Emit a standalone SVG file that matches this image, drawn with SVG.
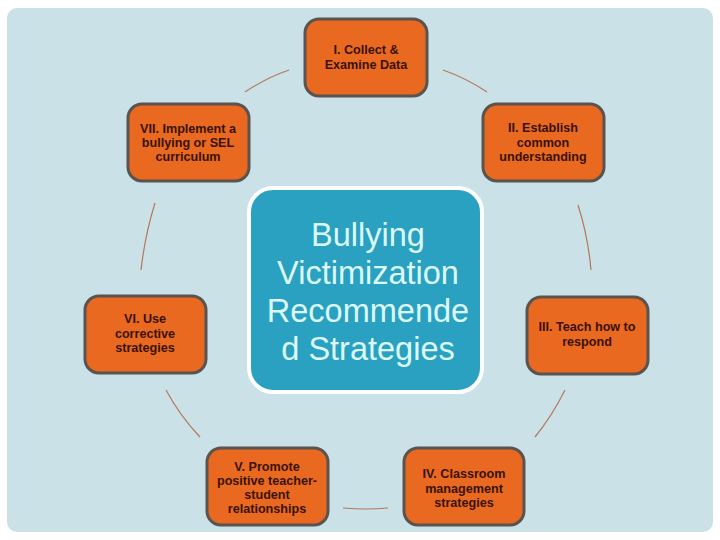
<svg xmlns="http://www.w3.org/2000/svg" width="720" height="540" viewBox="0 0 720 540">
<defs>
<style>
.node{fill:#e8691f;stroke:#5a5350;stroke-width:3}
.lbl{font-family:"Liberation Sans",Arial,sans-serif;font-weight:bold;font-size:12.6px;fill:#3a1208;text-anchor:middle}
.con{fill:none;stroke:#b5795a;stroke-width:1.2}
.ctr{font-family:"Liberation Sans",Arial,sans-serif;font-size:32.5px;fill:#dcf9f9;text-anchor:middle}
</style>
</defs>
<rect x="0" y="0" width="720" height="540" fill="#ffffff"/>
<rect x="7" y="8" width="706" height="524" rx="10" fill="#c9e1e7"/>
<g id="connectors">
<path class="con" d="M245,92 Q266,78 289,70"/>
<path class="con" d="M443,70 Q466,78 487,92"/>
<path class="con" d="M155,203 Q145,235 141,270"/>
<path class="con" d="M578,205 Q588,236 591,270"/>
<path class="con" d="M166,390 Q180,416 200,437"/>
<path class="con" d="M565,390 Q552,416 535,437"/>
<path class="con" d="M343,508 Q366,510 388,508"/>
</g>
<g id="center">
<rect x="249" y="188" width="233" height="204" rx="24" fill="#2aa1c1" stroke="#ffffff" stroke-width="4"/>
<text class="ctr" x="368" y="246">Bullying</text>
<text class="ctr" x="368" y="284">Victimization</text>
<text class="ctr" x="368" y="322">Recommende</text>
<text class="ctr" x="368" y="360">d Strategies</text>
</g>
<g id="n1">
<rect class="node" x="305" y="19" width="122" height="77" rx="14"/>
<text class="lbl" x="366" y="54">I. Collect &amp;</text>
<text class="lbl" x="366" y="69">Examine Data</text>
</g>
<g id="n2">
<rect class="node" x="483" y="104" width="121" height="77" rx="14"/>
<text class="lbl" x="543" y="132">II. Establish</text>
<text class="lbl" x="543" y="146.5">common</text>
<text class="lbl" x="543" y="161">understanding</text>
</g>
<g id="n3">
<rect class="node" x="527" y="297" width="121" height="77" rx="14"/>
<text class="lbl" x="587" y="331">III. Teach how to</text>
<text class="lbl" x="587" y="345.5">respond</text>
</g>
<g id="n4">
<rect class="node" x="404" y="448" width="120" height="77" rx="14"/>
<text class="lbl" x="464" y="478">IV. Classroom</text>
<text class="lbl" x="464" y="492.5">management</text>
<text class="lbl" x="464" y="507">strategies</text>
</g>
<g id="n5">
<rect class="node" x="207" y="448" width="121" height="77" rx="14"/>
<text class="lbl" x="267" y="471">V. Promote</text>
<text class="lbl" x="267" y="485">positive teacher-</text>
<text class="lbl" x="267" y="499">student</text>
<text class="lbl" x="267" y="513">relationships</text>
</g>
<g id="n6">
<rect class="node" x="85" y="296" width="121" height="77" rx="14"/>
<text class="lbl" x="145" y="323">VI. Use</text>
<text class="lbl" x="145" y="337.5">corrective</text>
<text class="lbl" x="145" y="352">strategies</text>
</g>
<g id="n7">
<rect class="node" x="128" y="104" width="121" height="77" rx="14"/>
<text class="lbl" x="188" y="132.5">VII. Implement a</text>
<text class="lbl" x="188" y="146.5">bullying or SEL</text>
<text class="lbl" x="188" y="160.5">curriculum</text>
</g>
</svg>
